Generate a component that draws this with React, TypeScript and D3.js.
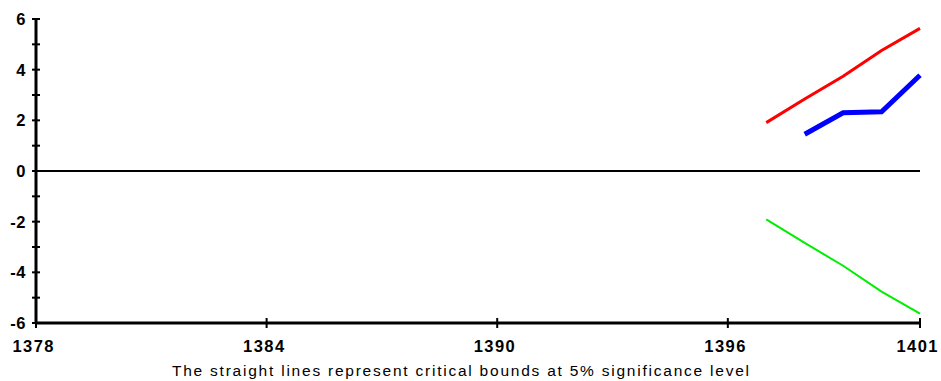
import React from "react";
import * as d3 from "d3";

const years = [1397, 1398, 1399, 1400, 1401];
const upperBound = [1.91, 2.84, 3.74, 4.76, 5.63];
const lowerBound = [-1.91, -2.84, -3.74, -4.76, -5.63];
const cusumYears = [1398, 1399, 1400, 1401];
const cusum = [1.45, 2.3, 2.34, 3.78];
const xTicks = [1378, 1384, 1390, 1396, 1401];
const yMajor = [-6, -4, -2, 0, 2, 4, 6];
const yMinor = [-5, -3, -1, 1, 3, 5];
const caption = "The straight lines represent critical bounds at 5% significance level";

export default function App() {
  const W = 941, H = 381;
  const x = d3.scaleLinear().domain([1378, 1401]).range([36, 920]);
  const y = d3.scaleLinear().domain([-6, 6]).range([323, 19]);
  const line = d3.line<[number, number]>().x(d => x(d[0])).y(d => y(d[1]));
  const up = line(years.map((t, i) => [t, upperBound[i]] as [number, number]))!;
  const lo = line(years.map((t, i) => [t, lowerBound[i]] as [number, number]))!;
  const cs = line(cusumYears.map((t, i) => [t, cusum[i]] as [number, number]))!;
  const font = "'Liberation Sans', Arial, sans-serif";
  return (
    <svg width={W} height={H} style={{ position: "absolute", left: 0, top: 0, background: "#fff" }} fontFamily={font}>
      <line x1={x(1378)} x2={x(1401)} y1={y(0)} y2={y(0)} stroke="#000" strokeWidth={2} />
      <path d={up} fill="none" stroke="#ff0000" strokeWidth={3} />
      <path d={lo} fill="none" stroke="#00ee00" strokeWidth={2} />
      <path d={cs} fill="none" stroke="#0000ff" strokeWidth={5} />
      <line x1={x(1378)} x2={x(1378)} y1={y(6)} y2={y(-6)} stroke="#000" strokeWidth={3} />
      <line x1={x(1378)} x2={x(1401)} y1={y(-6)} y2={y(-6)} stroke="#000" strokeWidth={3} />
      {yMajor.concat(yMinor).map(v => (
        <line key={"yt" + v} x1={x(1378) - 4} x2={x(1378) + 4} y1={y(v)} y2={y(v)} stroke="#000" strokeWidth={2} />
      ))}
      {yMajor.map(v => (
        <text key={"yl" + v} x={26} y={y(v)} dy="0.36em" textAnchor="end" fontSize={16.5} fontWeight="bold" letterSpacing={0.6}>{v}</text>
      ))}
      {xTicks.map(v => (
        <line key={"xt" + v} x1={x(v)} x2={x(v)} y1={y(-6) - 5} y2={y(-6) + 5} stroke="#000" strokeWidth={2} />
      ))}
      {xTicks.map(v => (
        <text key={"xl" + v} x={x(v) - 3} y={352} textAnchor="middle" fontSize={16.5} fontWeight="bold" textLength={41} lengthAdjust="spacing">{v}</text>
      ))}
      <text x={172} y={375.5} fontSize={15.5} textLength={577} lengthAdjust="spacing">{caption}</text>
    </svg>
  );
}
